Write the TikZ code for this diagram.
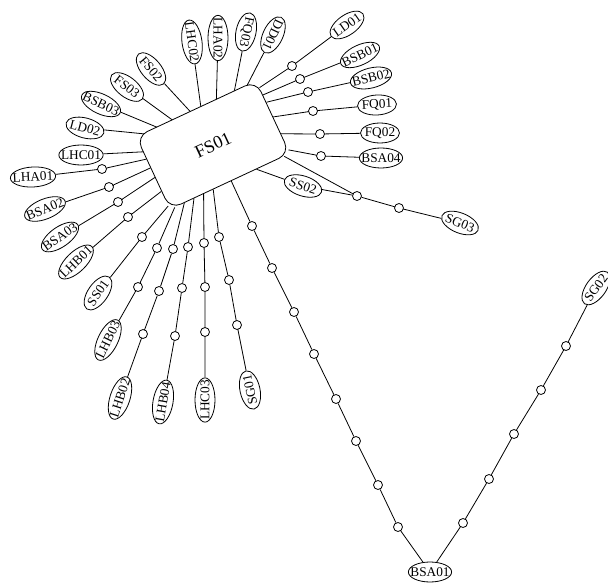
\documentclass[tikz,border=0pt]{standalone}
\usepackage{fontspec}
\setmainfont{Liberation Serif}
\usetikzlibrary{shapes.geometric,backgrounds,calc}
\begin{document}
\begin{tikzpicture}[x=1pt,y=-1pt,
  leaf/.style={ellipse,draw,fill=white,line width=0.8pt,font=\fontsize{13.3}{15}\selectfont,inner xsep=-4.3pt,inner ysep=0pt,minimum width=39pt,minimum height=20pt},
  dot/.style={circle,draw,fill=white,line width=0.8pt,inner sep=0pt,minimum size=9pt},
  hub/.style={rectangle,rounded corners=12pt,draw,fill=white,line width=0.8pt,minimum width=132pt,minimum height=80pt,font=\fontsize{18}{21}\selectfont},
  link/.style={line width=0.8pt},
  root/.style={link,shorten <=-10pt}]
\useasboundingbox (0,0) rectangle (608,585);

\node[hub,rotate=25] (FS01) at (213,145) {FS01};

% leaves
\node[leaf,rotate=35] (LD01) at (347,25) {LD01};
\node[leaf,rotate=25] (BSB01) at (360,55) {BSB01};
\node[leaf,rotate=14] (BSB02) at (371,78) {BSB02};
\node[leaf,rotate=3] (FQ01) at (377,105) {FQ01};
\node[leaf] (FQ02) at (380,133) {FQ02};
\node[leaf] (BSA04) at (381,158) {BSA04};
\node[leaf,rotate=-18] (SS02) at (303,186) {SS02};
\node[leaf,rotate=-22] (SG03) at (460,223) {SG03};
\node[leaf,rotate=-115] (DD01) at (273,35) {DD01};
\node[leaf,rotate=-102] (FQ03) at (246,32) {FQ03};
\node[leaf,rotate=-90] (LHA02) at (218,38) {LHA02};
\node[leaf,rotate=-82] (LHC02) at (192,42) {LHC02};
\node[leaf,rotate=-50] (FS02) at (151,69) {FS02};
\node[leaf,rotate=-38] (FS03) at (127,87) {FS03};
\node[leaf,rotate=-25] (BSB03) at (101,104) {BSB03};
\node[leaf,rotate=-15] (LD02) at (85,128) {LD02};
\node[leaf] (LHC01) at (81,155) {LHC01};
\node[leaf,rotate=3] (LHA01) at (33,177) {LHA01};
\node[leaf,rotate=22] (BSA02) at (45,209) {BSA02};
\node[leaf,rotate=35] (BSA03) at (60,237) {BSA03};
\node[leaf,rotate=44] (LHB01) at (76,262) {LHB01};
\node[leaf,rotate=55] (SS01) at (98,293) {SS01};
\node[leaf,rotate=64] (LHB03) at (108,340) {LHB03};
\node[leaf,rotate=72] (LHB02) at (120,398) {LHB02};
\node[leaf,rotate=80] (LHB04) at (163,402) {LHB04};
\node[leaf,rotate=90] (LHC03) at (205,400) {LHC03};
\node[leaf,rotate=102] (SG01) at (250,390) {SG01};
\node[leaf] (BSA01) at (430,572) {BSA01};
\node[leaf,rotate=54] (SG02) at (596,288) {SG02};

% small circles
\node[dot] (cLD01) at (292,66) {};
\node[dot] (cBSB01) at (300,79) {};
\node[dot] (cBSB02) at (308,92) {};
\node[dot] (cFQ01) at (313,111) {};
\node[dot] (cFQ02) at (320,134) {};
\node[dot] (cBSA04) at (321,156) {};
\node[dot] (cS1) at (357,196) {};
\node[dot] (cS2) at (399,208) {};
\node[dot] (L1) at (252,226) {};
\node[dot] (L2) at (272,268) {};
\node[dot] (L3) at (294,312) {};
\node[dot] (L4) at (314,354) {};
\node[dot] (L5) at (336,399) {};
\node[dot] (L6) at (356,441) {};
\node[dot] (L7) at (378,485) {};
\node[dot] (L8) at (398,527) {};
\node[dot] (R1) at (463,523) {};
\node[dot] (R2) at (489,479) {};
\node[dot] (R3) at (514,434) {};
\node[dot] (R4) at (541,390) {};
\node[dot] (R5) at (566,346) {};
\node[dot] (cLHA01) at (102,169) {};
\node[dot] (cBSA02) at (109,187) {};
\node[dot] (cBSA03) at (118,202) {};
\node[dot] (cLHB01) at (128,217) {};
\node[dot] (cSS01) at (142,237) {};
\node[dot] (a1) at (157,248) {};
\node[dot] (a2) at (138,287) {};
\node[dot] (b1) at (173,249) {};
\node[dot] (b2) at (159,291) {};
\node[dot] (b3) at (143,334) {};
\node[dot] (d1) at (188,247) {};
\node[dot] (d2) at (182,288) {};
\node[dot] (d3) at (175,336) {};
\node[dot] (e1) at (204,243) {};
\node[dot] (e2) at (205,287) {};
\node[dot] (e3) at (205,332) {};
\node[dot] (f1) at (219,237) {};
\node[dot] (f2) at (229,280) {};
\node[dot] (f3) at (237,325) {};

% attachment points on the hub
\coordinate (tLD02) at ($(FS01.north west)!0.05!(FS01.north east)$);
\coordinate (tBSB03) at ($(FS01.north west)!0.17!(FS01.north east)$);
\coordinate (tFS03) at ($(FS01.north west)!0.30!(FS01.north east)$);
\coordinate (tFS02) at ($(FS01.north west)!0.45!(FS01.north east)$);
\coordinate (tLHC02) at ($(FS01.north west)!0.54!(FS01.north east)$);
\coordinate (tLHA02) at ($(FS01.north west)!0.67!(FS01.north east)$);
\coordinate (tFQ03) at ($(FS01.north west)!0.82!(FS01.north east)$);
\coordinate (tDD01) at ($(FS01.north west)!0.93!(FS01.north east)$);
\coordinate (rLD01) at ($(FS01.north east)!0.10!(FS01.south east)$);
\coordinate (rBSB01) at ($(FS01.north east)!0.20!(FS01.south east)$);
\coordinate (rBSB02) at ($(FS01.north east)!0.30!(FS01.south east)$);
\coordinate (rFQ01) at ($(FS01.north east)!0.50!(FS01.south east)$);
\coordinate (rFQ02) at ($(FS01.north east)!0.73!(FS01.south east)$);
\coordinate (rBSA04) at ($(FS01.north east)!0.95!(FS01.south east)$);
\coordinate (bLHB03) at ($(FS01.south west)!0.04!(FS01.south east)$);
\coordinate (bLHB02) at ($(FS01.south west)!0.12!(FS01.south east)$);
\coordinate (bLHB04) at ($(FS01.south west)!0.20!(FS01.south east)$);
\coordinate (bLHC03) at ($(FS01.south west)!0.28!(FS01.south east)$);
\coordinate (bSG01) at ($(FS01.south west)!0.36!(FS01.south east)$);
\coordinate (bLong) at ($(FS01.south west)!0.51!(FS01.south east)$);
\coordinate (bSS02) at ($(FS01.south west)!0.72!(FS01.south east)$);
\coordinate (bS1) at ($(FS01.south west)!0.95!(FS01.south east)$);
\coordinate (lLHC01) at ($(FS01.north west)!0.21!(FS01.south west)$);
\coordinate (lLHA01) at ($(FS01.north west)!0.31!(FS01.south west)$);
\coordinate (lBSA02) at ($(FS01.north west)!0.43!(FS01.south west)$);
\coordinate (lBSA03) at ($(FS01.north west)!0.56!(FS01.south west)$);
\coordinate (lLHB01) at ($(FS01.north west)!0.75!(FS01.south west)$);
\coordinate (lSS01) at ($(FS01.north west)!0.95!(FS01.south west)$);

\begin{pgfonlayer}{background}
\fill[white] (0,0) rectangle (608,585);
% top side
\draw[root] (tLD02) -- (LD02);
\draw[root] (tBSB03) -- (BSB03);
\draw[root] (tFS03) -- (FS03);
\draw[root] (tFS02) -- (FS02);
\draw[root] (tLHC02) -- (LHC02);
\draw[root] (tLHA02) -- (LHA02);
\draw[root] (tFQ03) -- (FQ03);
\draw[root] (tDD01) -- (DD01);
% right side
\draw[root] (rLD01) -- (cLD01) -- (LD01);
\draw[root] (rBSB01) -- (cBSB01) -- (BSB01);
\draw[root] (rBSB02) -- (cBSB02) -- (BSB02);
\draw[root] (rFQ01) -- (cFQ01) -- (FQ01);
\draw[root] (rFQ02) -- (cFQ02) -- (FQ02);
\draw[root] (rBSA04) -- (cBSA04) -- (BSA04);
% bottom side
\draw[root] (bS1) -- (cS1) -- (cS2) -- (SG03);
\draw[root] (bSS02) -- (SS02) -- (cS1);
\draw[root] (bLong) -- (L1) -- (L2) -- (L3) -- (L4) -- (L5) -- (L6) -- (L7) -- (L8) -- (BSA01)
  -- (R1) -- (R2) -- (R3) -- (R4) -- (R5) -- (SG02);
\draw[root] (bSG01) -- (f1) -- (f2) -- (f3) -- (SG01);
\draw[root] (bLHC03) -- (e1) -- (e2) -- (e3) -- (LHC03);
\draw[root] (bLHB04) -- (d1) -- (d2) -- (d3) -- (LHB04);
\draw[root] (bLHB02) -- (b1) -- (b2) -- (b3) -- (LHB02);
\draw[root] (bLHB03) -- (a1) -- (a2) -- (LHB03);
% left side
\draw[root] (lSS01) -- (cSS01) -- (SS01);
\draw[root] (lLHB01) -- (cLHB01) -- (LHB01);
\draw[root] (lBSA03) -- (cBSA03) -- (BSA03);
\draw[root] (lBSA02) -- (cBSA02) -- (BSA02);
\draw[root] (lLHA01) -- (cLHA01) -- (LHA01);
\draw[root] (lLHC01) -- (LHC01);
\end{pgfonlayer}
\end{tikzpicture}
\end{document}
